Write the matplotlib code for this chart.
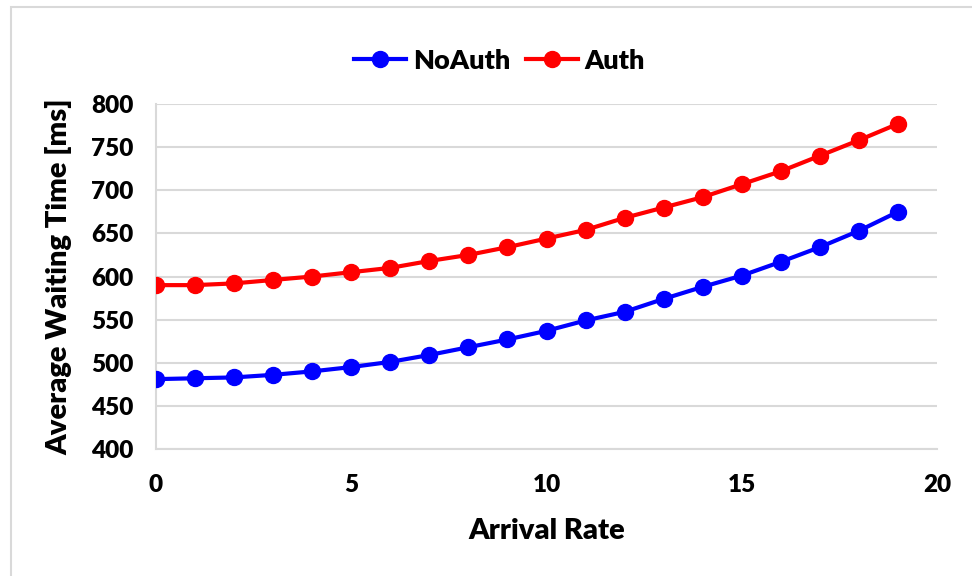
import matplotlib
matplotlib.use("Agg")
import matplotlib.pyplot as plt
from matplotlib.patches import Rectangle

plt.rcParams['font.family'] = ['Lato', 'DejaVu Sans']
plt.rcParams['font.weight'] = 'heavy'

# arrival rate vs. average waiting time
arrival_rate = list(range(0, 20))
no_auth = [481, 482, 483, 486, 490, 495, 501, 509, 518, 527,
           537, 549, 559, 574, 588, 601, 617, 634, 653, 675]
auth = [590, 590, 592, 596, 600, 605, 610, 618, 625, 634,
        644, 654, 668, 680, 692, 707, 722, 740, 758, 777]
y_ticks = [400, 450, 500, 550, 600, 650, 700, 750, 800]
x_ticks = [0, 5, 10, 15, 20]

fig = plt.figure(figsize=(9.72, 5.76), dpi=100)
ax = fig.add_axes([156 / 972, 1 - 449 / 576, 781 / 972, 345 / 576])

# light frame around the chart area
fig.patches.append(Rectangle((11 / 972, -0.1), 1.5, 1 - 7 / 576 + 0.1,
                             transform=fig.transFigure, fill=False,
                             edgecolor='#d9d9d9', linewidth=1.5))

ax.plot(arrival_rate, no_auth, color='#0000ff', marker='o', markersize=11.5,
        linewidth=3, label='NoAuth', zorder=3)
ax.plot(arrival_rate, auth, color='#ff0000', marker='o', markersize=11.5,
        linewidth=3, label='Auth', zorder=3)

ax.set_xlim(0, 20)
ax.set_ylim(400, 800)
ax.set_xticks(x_ticks)
ax.set_yticks(y_ticks)
ax.yaxis.grid(True, color='#d9d9d9', linewidth=1.5)
ax.set_axisbelow(True)
for side in ['top', 'right']:
    ax.spines[side].set_visible(False)
for side in ['left', 'bottom']:
    ax.spines[side].set_color('#d9d9d9')
    ax.spines[side].set_linewidth(1.5)
ax.tick_params(axis='both', length=0, labelsize=17.5)
ax.tick_params(axis='x', pad=18)
ax.tick_params(axis='y', pad=16)

ax.set_xlabel('Arrival Rate', fontsize=21, fontweight='heavy', labelpad=16)
ax.set_ylabel('Average Waiting Time [ms]', fontsize=21, fontweight='heavy', labelpad=14)

ax.legend(loc='lower center', bbox_to_anchor=(0.44, 1.02), ncol=2, frameon=False,
          handlelength=1.9, columnspacing=0.6, handletextpad=0.25,
          prop={'weight': 'heavy', 'size': 19.5})

fig.savefig('out.png', dpi=100)
